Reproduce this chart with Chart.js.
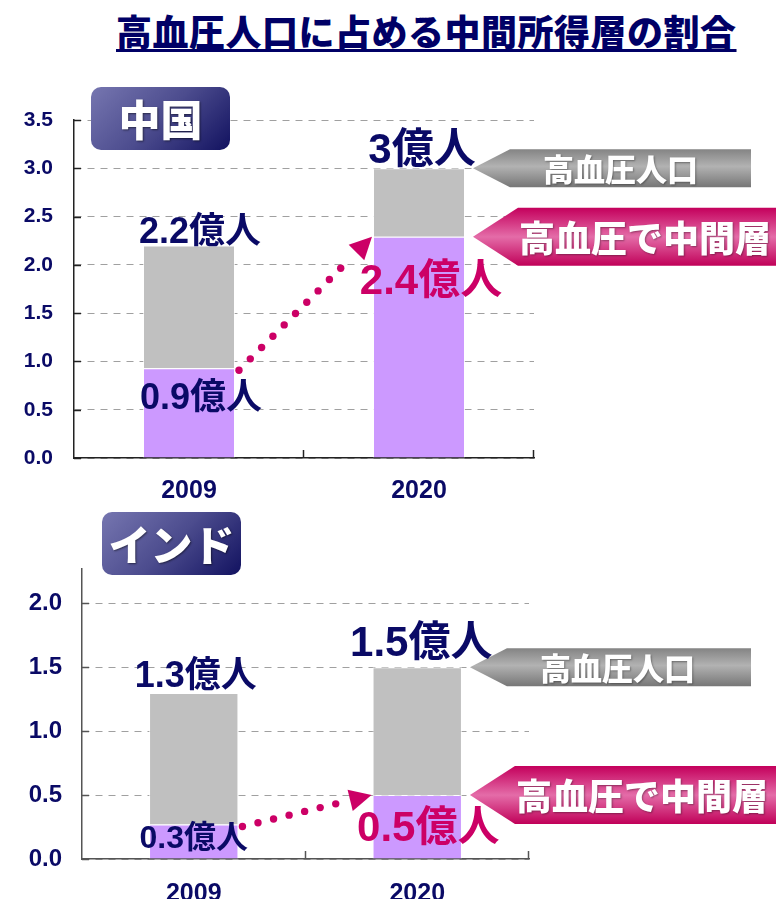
<!DOCTYPE html>
<html lang="ja">
<head>
<meta charset="utf-8">
<script src="https://cdn.jsdelivr.net/npm/chart.js@4.4.1/dist/chart.umd.min.js"></script>
<style>
  body { margin: 0; background: #fff; }
  #page { position: relative; width: 776px; height: 905px; overflow: hidden; font-family: 'Noto Sans CJK JP', sans-serif; }
  #title { position: absolute; left: 116px; top: 4px; font-size: 36px; font-weight: 900; color: #000066;
           letter-spacing: 0.5px; text-decoration: underline; text-decoration-thickness: 3px; text-underline-offset: 3px; white-space: nowrap; }
  .badge { position: absolute; width: 139px; height: 63px; border-radius: 10px; color: #fff; font-size: 42px; font-weight: 900;
           text-align: center; line-height: 62px; background: linear-gradient(135deg, #7676b0 0%, #4c4c8e 50%, #121260 100%);
           text-shadow: 1px 1px 2px rgba(0,0,0,0.5); }
  canvas { position: absolute; left: 0; }
</style>
</head>
<body>
<div id="page">
  <div id="title">高血圧人口に占める中間所得層の割合</div>
  <canvas id="grafico-china" width="776" height="450" style="top:60px"></canvas>
  <canvas id="grafico-india" width="776" height="395" style="top:510px"></canvas>
  <div class="badge" style="left:91px;top:87px">中国</div>
  <div class="badge" style="left:102px;top:512px">インド</div>
</div>
<script>
// data (億人)
const years = ['2009', '2020'];
const chinaMiddle = [0.93, 2.29];
const chinaRest = [1.27, 0.71];
const indiaMiddle = [0.27, 0.5];
const indiaRest = [1.03, 1.0];
const chinaTotalText = ['2.2億人', '3億人'];
const chinaMiddleText = ['0.9億人', '2.4億人'];
const indiaTotalText = ['1.3億人', '1.5億人'];
const indiaMiddleText = ['0.3億人', '0.5億人'];
const grayTag = '高血圧人口';
const pinkTag = '高血圧で中間層';

const NAVY = '#0a0a66';
const PINK = '#cc0066';
const NUM = "'Liberation Sans', Arial, 'Noto Sans CJK JP', sans-serif";

function dottedArrow(ctx, x1, y1, x2, y2) {
    const dx = x2 - x1, dy = y2 - y1, len = Math.hypot(dx, dy);
    const ux = dx / len, uy = dy / len;
    const head = 22, half = 11;
    ctx.fillStyle = PINK;
    for (let d = 0; d <= len - head - 8; d += 16) {
        ctx.beginPath();
        ctx.arc(x1 + ux * d, y1 + uy * d, 3.7, 0, Math.PI * 2);
        ctx.fill();
    }
    const bx = x2 - ux * head, by = y2 - uy * head;
    ctx.beginPath();
    ctx.moveTo(x2, y2);
    ctx.lineTo(bx - uy * half, by + ux * half);
    ctx.lineTo(bx + uy * half, by - ux * half);
    ctx.closePath();
    ctx.fill();
}

function callout(ctx, tipX, tipY, neck, right, h, stops, text, size, textX, align) {
    const top = tipY - h / 2, bottom = tipY + h / 2;
    const g = ctx.createLinearGradient(0, top, 0, bottom);
    stops.forEach(s => g.addColorStop(s[0], s[1]));
    ctx.fillStyle = g;
    ctx.beginPath();
    ctx.moveTo(tipX, tipY);
    ctx.lineTo(tipX + neck, top);
    ctx.lineTo(right, top);
    ctx.lineTo(right, bottom);
    ctx.lineTo(tipX + neck, bottom);
    ctx.closePath();
    ctx.fill();
    ctx.save();
    ctx.fillStyle = '#fff';
    ctx.shadowColor = 'rgba(0,0,0,0.35)';
    ctx.shadowBlur = 2;
    ctx.shadowOffsetX = 1;
    ctx.shadowOffsetY = 1;
    ctx.font = '900 ' + size + "px 'Noto Sans CJK JP'";
    ctx.textAlign = align;
    ctx.textBaseline = 'middle';
    ctx.fillText(text, tipX + neck + textX, tipY + 1);
    ctx.restore();
}

function extras(st) {
    return {
        id: 'extras',
        afterDatasetsDraw(chart) {
            const ctx = chart.ctx;
            const low = chart.getDatasetMeta(0).data;
            const high = chart.getDatasetMeta(1).data;
            const area = chart.chartArea;
            const y = chart.scales.y;
            ctx.save();

            // small solid marks on the axes
            ctx.strokeStyle = st.axis;
            ctx.lineWidth = 1.5;
            y.ticks.forEach(t => {
                if (Math.abs(t.value * 2 - Math.round(t.value * 2)) > 1e-6) return;
                const py = Math.round(y.getPixelForValue(t.value)) + 0.5;
                ctx.beginPath(); ctx.moveTo(area.left, py); ctx.lineTo(area.left + 7, py); ctx.stroke();
            });
            const step = (area.right - area.left) / years.length;
            for (let k = 1; k <= years.length; k++) {
                const px = Math.round(area.left + step * k) - 0.5;
                ctx.beginPath(); ctx.moveTo(px, area.bottom); ctx.lineTo(px, area.bottom - 8); ctx.stroke();
            }

            // dotted arrow between the middle-class tops
            dottedArrow(ctx, low[0].x + low[0].width / 2 + 4, low[0].y + 2,
                        low[1].x - low[1].width / 2 - 1, low[1].y);

            // callouts on the right
            const last = high.length - 1;
            const tipX = high[last].x + high[last].width / 2 + 8;
            callout(ctx, tipX, high[last].y, 37, 751, 38,
                    [[0, '#848484'], [0.45, '#b2b2b2'], [1, '#767676']], grayTag, 31, 33, 'left');
            callout(ctx, tipX, low[last].y, 45, chart.width + 10, 58,
                    [[0, '#c4005c'], [0.5, '#e46ca8'], [1, '#c00058']], pinkTag, 36, 1, 'left');

            // value labels
            ctx.textAlign = 'center';
            for (let i = 0; i < years.length; i++) {
                ctx.fillStyle = NAVY;
                ctx.textBaseline = 'alphabetic';
                ctx.font = 'bold ' + st.totalSize[i] + 'px ' + NUM;
                ctx.fillText(st.totalText[i], high[i].x + st.totalDx[i], high[i].y + st.totalDy[i]);
                ctx.fillStyle = i === 0 ? NAVY : PINK;
                ctx.textBaseline = 'middle';
                ctx.font = 'bold ' + st.midSize[i] + 'px ' + NUM;
                ctx.fillText(st.midText[i], low[i].x + st.midDx[i], low[i].y + st.midDy[i]);
            }
            ctx.restore();
        }
    };
}

function makeChart(id, middle, rest, yMax, sizes, st) {
    const ctx = document.getElementById(id).getContext('2d');
    return new Chart(ctx, {
        type: 'bar',
        data: {
            labels: years,
            datasets: [{
                data: middle,
                backgroundColor: '#cc99ff',
                borderColor: 'rgba(255,255,255,0.7)',
                borderWidth: 1,
                barPercentage: 0.4,
                categoryPercentage: 1
            }, {
                data: rest,
                backgroundColor: '#c0c0c0',
                borderColor: 'rgba(255,255,255,0.7)',
                borderWidth: 1,
                barPercentage: 0.4,
                categoryPercentage: 1
            }]
        },
        options: {
            responsive: false,
            animation: false,
            events: [],
            layout: { padding: sizes.padding },
            plugins: { legend: { display: false }, tooltip: { enabled: false } },
            scales: {
                x: {
                    stacked: true,
                    grid: { display: true, drawOnChartArea: false, drawTicks: false },
                    border: { color: st.axis, width: 1.5 },
                    ticks: { color: NAVY, padding: sizes.xPad, font: { family: NUM, size: 25, weight: 'bold' } },
                    afterFit: s => { s.height = 40; }
                },
                y: {
                    stacked: true,
                    min: 0,
                    max: yMax,
                    grid: {
                        drawTicks: false,
                        color: c => (Math.abs(c.tick.value * 2 - Math.round(c.tick.value * 2)) > 1e-6 ? 'transparent' : '#a0a0a0')
                    },
                    border: { color: st.axis, width: 1.5, dash: [7, 6] },
                    ticks: {
                        stepSize: 0.5,
                        color: NAVY,
                        padding: sizes.yPad,
                        font: { family: NUM, size: sizes.yFont, weight: 'bold' },
                        callback: v => (Math.abs(v * 2 - Math.round(v * 2)) > 1e-6 ? '' : v.toFixed(1))
                    },
                    afterFit: s => { s.width = sizes.yWidth; }
                }
            }
        },
        plugins: [extras(st)]
    });
}

makeChart('grafico-china', chinaMiddle, chinaRest, 3.5,
    { padding: { left: 0, top: 60, right: 242, bottom: 12 }, xPad: 18, yPad: 21, yFont: 21, yWidth: 74 },
    { axis: '#222', totalText: chinaTotalText, midText: chinaMiddleText,
      totalSize: [36, 42], totalDx: [11, 3], totalDy: [-3, -5],
      midSize: [36, 42], midDx: [12, 12], midDy: [31, 46] });

makeChart('grafico-india', indiaMiddle, indiaRest, 2.27,
    { padding: { left: 0, top: 59, right: 247, bottom: 6 }, xPad: 20, yPad: 20, yFont: 24, yWidth: 82 },
    { axis: '#555', totalText: indiaTotalText, midText: indiaMiddleText,
      totalSize: [36, 42], totalDx: [2, 4], totalDy: [-6, -11],
      midSize: [32, 42], midDx: [0, 11], midDy: [15, 34] });
</script>
</body>
</html>
